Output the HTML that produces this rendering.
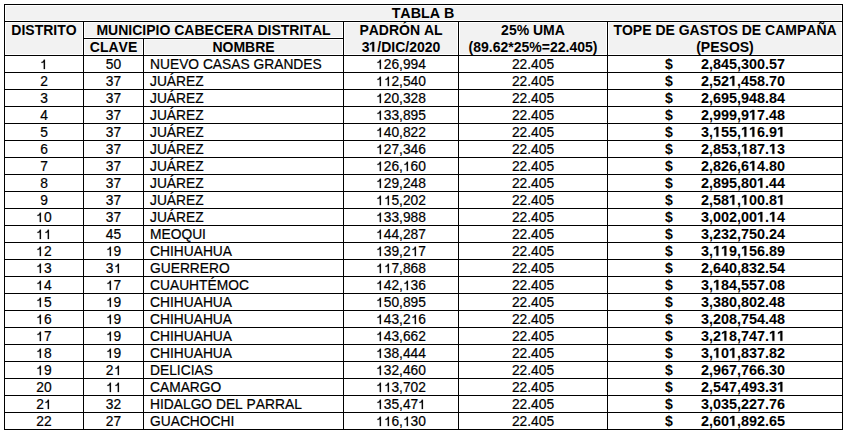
<!DOCTYPE html>
<html><head><meta charset="utf-8"><style>
html,body{margin:0;padding:0;background:#fff;}
body{width:848px;height:434px;overflow:hidden;position:relative;font-family:"Liberation Sans",sans-serif;color:#000;font-kerning:none;}
.l{position:absolute;background:#000;}
.f{position:absolute;background:#f2f2f2;}
.t{position:absolute;white-space:nowrap;height:17px;line-height:17px;}
.b{font-weight:bold;font-size:14px;transform:scaleY(1.0);transform-origin:0 13px;}
.r{font-size:13.8px;transform:scaleY(1.04);transform-origin:0 13px;-webkit-text-stroke:0.2px #000;}
.c{text-align:center;}
.rt{text-align:right;}
.bn{font-size:14.4px;}
.one{display:inline-block;width:0.55615em;height:0.66em;vertical-align:0;position:relative;top:0px;overflow:visible;}
.r .one path{stroke:#000;stroke-width:30;}
.b .one{height:0.68em;top:0px;}
.b .one path{stroke:#000;stroke-width:40;}
</style></head><body>
<div class="f" style="left:6px;top:6px;width:835px;height:14px"></div><div class="f" style="left:6px;top:23px;width:76px;height:31px"></div><div class="f" style="left:85px;top:23px;width:257px;height:14px"></div><div class="f" style="left:85px;top:40px;width:57px;height:14px"></div><div class="f" style="left:145px;top:40px;width:197px;height:14px"></div><div class="f" style="left:345px;top:23px;width:112px;height:31px"></div><div class="f" style="left:460px;top:23px;width:146px;height:31px"></div><div class="f" style="left:609px;top:23px;width:232px;height:31px"></div><div class="l" style="left:4px;top:4px;width:839px;height:1px"></div><div class="l" style="left:4px;top:21px;width:839px;height:1px"></div><div class="l" style="left:83px;top:38px;width:261px;height:1px"></div><div class="l" style="left:4px;top:55px;width:839px;height:1px"></div><div class="l" style="left:4px;top:72px;width:839px;height:1px"></div><div class="l" style="left:4px;top:89px;width:839px;height:1px"></div><div class="l" style="left:4px;top:106px;width:839px;height:1px"></div><div class="l" style="left:4px;top:123px;width:839px;height:1px"></div><div class="l" style="left:4px;top:140px;width:839px;height:1px"></div><div class="l" style="left:4px;top:157px;width:839px;height:1px"></div><div class="l" style="left:4px;top:174px;width:839px;height:1px"></div><div class="l" style="left:4px;top:191px;width:839px;height:1px"></div><div class="l" style="left:4px;top:208px;width:839px;height:1px"></div><div class="l" style="left:4px;top:225px;width:839px;height:1px"></div><div class="l" style="left:4px;top:242px;width:839px;height:1px"></div><div class="l" style="left:4px;top:259px;width:839px;height:1px"></div><div class="l" style="left:4px;top:276px;width:839px;height:1px"></div><div class="l" style="left:4px;top:293px;width:839px;height:1px"></div><div class="l" style="left:4px;top:310px;width:839px;height:1px"></div><div class="l" style="left:4px;top:327px;width:839px;height:1px"></div><div class="l" style="left:4px;top:344px;width:839px;height:1px"></div><div class="l" style="left:4px;top:361px;width:839px;height:1px"></div><div class="l" style="left:4px;top:378px;width:839px;height:1px"></div><div class="l" style="left:4px;top:395px;width:839px;height:1px"></div><div class="l" style="left:4px;top:412px;width:839px;height:1px"></div><div class="l" style="left:4px;top:429px;width:839px;height:1px"></div><div class="l" style="left:4px;top:4px;width:1px;height:426px"></div><div class="l" style="left:842px;top:4px;width:1px;height:426px"></div><div class="l" style="left:83px;top:21px;width:1px;height:409px"></div><div class="l" style="left:143px;top:38px;width:1px;height:392px"></div><div class="l" style="left:343px;top:21px;width:1px;height:409px"></div><div class="l" style="left:458px;top:21px;width:1px;height:409px"></div><div class="l" style="left:607px;top:21px;width:1px;height:409px"></div><div class="t b c" style="left:4px;width:838px;top:5px;font-size:14.3px">TABLA B</div><div class="t b c" style="left:5px;width:78px;top:22px;">DISTRITO</div><div class="t b c" style="left:84px;width:259px;top:22px;">MUNICIPIO CABECERA DISTRITAL</div><div class="t b c" style="left:84px;width:59px;top:39px;">CLAVE</div><div class="t b c" style="left:144px;width:199px;top:39px;">NOMBRE</div><div class="t b c" style="left:344px;width:114px;top:22px;">PADRÓN AL</div><div class="t b c" style="left:344px;width:114px;top:39px;">3<svg class="one" viewBox="0 0 1139 1409" preserveAspectRatio="none"><path d="M759 1409L478 1409L478 239L140 450L140 229L493 0L759 0Z"/></svg>/DIC/2020</div><div class="t b c" style="left:459px;width:148px;top:22px;">25% UMA</div><div class="t b c" style="left:459px;width:148px;top:39px;">(89.62*25%=22.405)</div><div class="t b c" style="left:608px;width:234px;top:22px;">TOPE DE GASTOS DE CAMPAÑA</div><div class="t b c" style="left:608px;width:234px;top:39px;">(PESOS)</div><div class="t r c" style="left:5px;width:78px;top:56px;"><svg class="one" viewBox="0 0 1139 1409" preserveAspectRatio="none"><path d="M735 1409L555 1409L555 379C480 449 330 474 207 479L207 339C380 319 500 229 560 0L735 0Z"/></svg></div><div class="t r c" style="left:84px;width:59px;top:56px;">50</div><div class="t r" style="left:150px;width:193px;top:56px;">NUEVO CASAS GRANDES</div><div class="t r c" style="left:344px;width:114px;top:56px;"><svg class="one" viewBox="0 0 1139 1409" preserveAspectRatio="none"><path d="M735 1409L555 1409L555 379C480 449 330 474 207 479L207 339C380 319 500 229 560 0L735 0Z"/></svg>26,994</div><div class="t r c" style="left:459px;width:148px;top:56px;">22.405</div><div class="t b" style="left:665px;width:10px;top:56px;">$</div><div class="t b rt bn" style="left:685px;width:100px;top:56px;">2,845,300.57</div><div class="t r c" style="left:5px;width:78px;top:73px;">2</div><div class="t r c" style="left:84px;width:59px;top:73px;">37</div><div class="t r" style="left:150px;width:193px;top:73px;">JUÁREZ</div><div class="t r c" style="left:344px;width:114px;top:73px;"><svg class="one" viewBox="0 0 1139 1409" preserveAspectRatio="none"><path d="M735 1409L555 1409L555 379C480 449 330 474 207 479L207 339C380 319 500 229 560 0L735 0Z"/></svg><svg class="one" viewBox="0 0 1139 1409" preserveAspectRatio="none"><path d="M735 1409L555 1409L555 379C480 449 330 474 207 479L207 339C380 319 500 229 560 0L735 0Z"/></svg>2,540</div><div class="t r c" style="left:459px;width:148px;top:73px;">22.405</div><div class="t b" style="left:665px;width:10px;top:73px;">$</div><div class="t b rt bn" style="left:685px;width:100px;top:73px;">2,52<svg class="one" viewBox="0 0 1139 1409" preserveAspectRatio="none"><path d="M759 1409L478 1409L478 239L140 450L140 229L493 0L759 0Z"/></svg>,458.70</div><div class="t r c" style="left:5px;width:78px;top:90px;">3</div><div class="t r c" style="left:84px;width:59px;top:90px;">37</div><div class="t r" style="left:150px;width:193px;top:90px;">JUÁREZ</div><div class="t r c" style="left:344px;width:114px;top:90px;"><svg class="one" viewBox="0 0 1139 1409" preserveAspectRatio="none"><path d="M735 1409L555 1409L555 379C480 449 330 474 207 479L207 339C380 319 500 229 560 0L735 0Z"/></svg>20,328</div><div class="t r c" style="left:459px;width:148px;top:90px;">22.405</div><div class="t b" style="left:665px;width:10px;top:90px;">$</div><div class="t b rt bn" style="left:685px;width:100px;top:90px;">2,695,948.84</div><div class="t r c" style="left:5px;width:78px;top:107px;">4</div><div class="t r c" style="left:84px;width:59px;top:107px;">37</div><div class="t r" style="left:150px;width:193px;top:107px;">JUÁREZ</div><div class="t r c" style="left:344px;width:114px;top:107px;"><svg class="one" viewBox="0 0 1139 1409" preserveAspectRatio="none"><path d="M735 1409L555 1409L555 379C480 449 330 474 207 479L207 339C380 319 500 229 560 0L735 0Z"/></svg>33,895</div><div class="t r c" style="left:459px;width:148px;top:107px;">22.405</div><div class="t b" style="left:665px;width:10px;top:107px;">$</div><div class="t b rt bn" style="left:685px;width:100px;top:107px;">2,999,9<svg class="one" viewBox="0 0 1139 1409" preserveAspectRatio="none"><path d="M759 1409L478 1409L478 239L140 450L140 229L493 0L759 0Z"/></svg>7.48</div><div class="t r c" style="left:5px;width:78px;top:124px;">5</div><div class="t r c" style="left:84px;width:59px;top:124px;">37</div><div class="t r" style="left:150px;width:193px;top:124px;">JUÁREZ</div><div class="t r c" style="left:344px;width:114px;top:124px;"><svg class="one" viewBox="0 0 1139 1409" preserveAspectRatio="none"><path d="M735 1409L555 1409L555 379C480 449 330 474 207 479L207 339C380 319 500 229 560 0L735 0Z"/></svg>40,822</div><div class="t r c" style="left:459px;width:148px;top:124px;">22.405</div><div class="t b" style="left:665px;width:10px;top:124px;">$</div><div class="t b rt bn" style="left:685px;width:100px;top:124px;">3,<svg class="one" viewBox="0 0 1139 1409" preserveAspectRatio="none"><path d="M759 1409L478 1409L478 239L140 450L140 229L493 0L759 0Z"/></svg>55,<svg class="one" viewBox="0 0 1139 1409" preserveAspectRatio="none"><path d="M759 1409L478 1409L478 239L140 450L140 229L493 0L759 0Z"/></svg><svg class="one" viewBox="0 0 1139 1409" preserveAspectRatio="none"><path d="M759 1409L478 1409L478 239L140 450L140 229L493 0L759 0Z"/></svg>6.9<svg class="one" viewBox="0 0 1139 1409" preserveAspectRatio="none"><path d="M759 1409L478 1409L478 239L140 450L140 229L493 0L759 0Z"/></svg></div><div class="t r c" style="left:5px;width:78px;top:141px;">6</div><div class="t r c" style="left:84px;width:59px;top:141px;">37</div><div class="t r" style="left:150px;width:193px;top:141px;">JUÁREZ</div><div class="t r c" style="left:344px;width:114px;top:141px;"><svg class="one" viewBox="0 0 1139 1409" preserveAspectRatio="none"><path d="M735 1409L555 1409L555 379C480 449 330 474 207 479L207 339C380 319 500 229 560 0L735 0Z"/></svg>27,346</div><div class="t r c" style="left:459px;width:148px;top:141px;">22.405</div><div class="t b" style="left:665px;width:10px;top:141px;">$</div><div class="t b rt bn" style="left:685px;width:100px;top:141px;">2,853,<svg class="one" viewBox="0 0 1139 1409" preserveAspectRatio="none"><path d="M759 1409L478 1409L478 239L140 450L140 229L493 0L759 0Z"/></svg>87.<svg class="one" viewBox="0 0 1139 1409" preserveAspectRatio="none"><path d="M759 1409L478 1409L478 239L140 450L140 229L493 0L759 0Z"/></svg>3</div><div class="t r c" style="left:5px;width:78px;top:158px;">7</div><div class="t r c" style="left:84px;width:59px;top:158px;">37</div><div class="t r" style="left:150px;width:193px;top:158px;">JUÁREZ</div><div class="t r c" style="left:344px;width:114px;top:158px;"><svg class="one" viewBox="0 0 1139 1409" preserveAspectRatio="none"><path d="M735 1409L555 1409L555 379C480 449 330 474 207 479L207 339C380 319 500 229 560 0L735 0Z"/></svg>26,<svg class="one" viewBox="0 0 1139 1409" preserveAspectRatio="none"><path d="M735 1409L555 1409L555 379C480 449 330 474 207 479L207 339C380 319 500 229 560 0L735 0Z"/></svg>60</div><div class="t r c" style="left:459px;width:148px;top:158px;">22.405</div><div class="t b" style="left:665px;width:10px;top:158px;">$</div><div class="t b rt bn" style="left:685px;width:100px;top:158px;">2,826,6<svg class="one" viewBox="0 0 1139 1409" preserveAspectRatio="none"><path d="M759 1409L478 1409L478 239L140 450L140 229L493 0L759 0Z"/></svg>4.80</div><div class="t r c" style="left:5px;width:78px;top:175px;">8</div><div class="t r c" style="left:84px;width:59px;top:175px;">37</div><div class="t r" style="left:150px;width:193px;top:175px;">JUÁREZ</div><div class="t r c" style="left:344px;width:114px;top:175px;"><svg class="one" viewBox="0 0 1139 1409" preserveAspectRatio="none"><path d="M735 1409L555 1409L555 379C480 449 330 474 207 479L207 339C380 319 500 229 560 0L735 0Z"/></svg>29,248</div><div class="t r c" style="left:459px;width:148px;top:175px;">22.405</div><div class="t b" style="left:665px;width:10px;top:175px;">$</div><div class="t b rt bn" style="left:685px;width:100px;top:175px;">2,895,80<svg class="one" viewBox="0 0 1139 1409" preserveAspectRatio="none"><path d="M759 1409L478 1409L478 239L140 450L140 229L493 0L759 0Z"/></svg>.44</div><div class="t r c" style="left:5px;width:78px;top:192px;">9</div><div class="t r c" style="left:84px;width:59px;top:192px;">37</div><div class="t r" style="left:150px;width:193px;top:192px;">JUÁREZ</div><div class="t r c" style="left:344px;width:114px;top:192px;"><svg class="one" viewBox="0 0 1139 1409" preserveAspectRatio="none"><path d="M735 1409L555 1409L555 379C480 449 330 474 207 479L207 339C380 319 500 229 560 0L735 0Z"/></svg><svg class="one" viewBox="0 0 1139 1409" preserveAspectRatio="none"><path d="M735 1409L555 1409L555 379C480 449 330 474 207 479L207 339C380 319 500 229 560 0L735 0Z"/></svg>5,202</div><div class="t r c" style="left:459px;width:148px;top:192px;">22.405</div><div class="t b" style="left:665px;width:10px;top:192px;">$</div><div class="t b rt bn" style="left:685px;width:100px;top:192px;">2,58<svg class="one" viewBox="0 0 1139 1409" preserveAspectRatio="none"><path d="M759 1409L478 1409L478 239L140 450L140 229L493 0L759 0Z"/></svg>,<svg class="one" viewBox="0 0 1139 1409" preserveAspectRatio="none"><path d="M759 1409L478 1409L478 239L140 450L140 229L493 0L759 0Z"/></svg>00.8<svg class="one" viewBox="0 0 1139 1409" preserveAspectRatio="none"><path d="M759 1409L478 1409L478 239L140 450L140 229L493 0L759 0Z"/></svg></div><div class="t r c" style="left:5px;width:78px;top:209px;"><svg class="one" viewBox="0 0 1139 1409" preserveAspectRatio="none"><path d="M735 1409L555 1409L555 379C480 449 330 474 207 479L207 339C380 319 500 229 560 0L735 0Z"/></svg>0</div><div class="t r c" style="left:84px;width:59px;top:209px;">37</div><div class="t r" style="left:150px;width:193px;top:209px;">JUÁREZ</div><div class="t r c" style="left:344px;width:114px;top:209px;"><svg class="one" viewBox="0 0 1139 1409" preserveAspectRatio="none"><path d="M735 1409L555 1409L555 379C480 449 330 474 207 479L207 339C380 319 500 229 560 0L735 0Z"/></svg>33,988</div><div class="t r c" style="left:459px;width:148px;top:209px;">22.405</div><div class="t b" style="left:665px;width:10px;top:209px;">$</div><div class="t b rt bn" style="left:685px;width:100px;top:209px;">3,002,00<svg class="one" viewBox="0 0 1139 1409" preserveAspectRatio="none"><path d="M759 1409L478 1409L478 239L140 450L140 229L493 0L759 0Z"/></svg>.<svg class="one" viewBox="0 0 1139 1409" preserveAspectRatio="none"><path d="M759 1409L478 1409L478 239L140 450L140 229L493 0L759 0Z"/></svg>4</div><div class="t r c" style="left:5px;width:78px;top:226px;"><svg class="one" viewBox="0 0 1139 1409" preserveAspectRatio="none"><path d="M735 1409L555 1409L555 379C480 449 330 474 207 479L207 339C380 319 500 229 560 0L735 0Z"/></svg><svg class="one" viewBox="0 0 1139 1409" preserveAspectRatio="none"><path d="M735 1409L555 1409L555 379C480 449 330 474 207 479L207 339C380 319 500 229 560 0L735 0Z"/></svg></div><div class="t r c" style="left:84px;width:59px;top:226px;">45</div><div class="t r" style="left:150px;width:193px;top:226px;">MEOQUI</div><div class="t r c" style="left:344px;width:114px;top:226px;"><svg class="one" viewBox="0 0 1139 1409" preserveAspectRatio="none"><path d="M735 1409L555 1409L555 379C480 449 330 474 207 479L207 339C380 319 500 229 560 0L735 0Z"/></svg>44,287</div><div class="t r c" style="left:459px;width:148px;top:226px;">22.405</div><div class="t b" style="left:665px;width:10px;top:226px;">$</div><div class="t b rt bn" style="left:685px;width:100px;top:226px;">3,232,750.24</div><div class="t r c" style="left:5px;width:78px;top:243px;"><svg class="one" viewBox="0 0 1139 1409" preserveAspectRatio="none"><path d="M735 1409L555 1409L555 379C480 449 330 474 207 479L207 339C380 319 500 229 560 0L735 0Z"/></svg>2</div><div class="t r c" style="left:84px;width:59px;top:243px;"><svg class="one" viewBox="0 0 1139 1409" preserveAspectRatio="none"><path d="M735 1409L555 1409L555 379C480 449 330 474 207 479L207 339C380 319 500 229 560 0L735 0Z"/></svg>9</div><div class="t r" style="left:150px;width:193px;top:243px;">CHIHUAHUA</div><div class="t r c" style="left:344px;width:114px;top:243px;"><svg class="one" viewBox="0 0 1139 1409" preserveAspectRatio="none"><path d="M735 1409L555 1409L555 379C480 449 330 474 207 479L207 339C380 319 500 229 560 0L735 0Z"/></svg>39,2<svg class="one" viewBox="0 0 1139 1409" preserveAspectRatio="none"><path d="M735 1409L555 1409L555 379C480 449 330 474 207 479L207 339C380 319 500 229 560 0L735 0Z"/></svg>7</div><div class="t r c" style="left:459px;width:148px;top:243px;">22.405</div><div class="t b" style="left:665px;width:10px;top:243px;">$</div><div class="t b rt bn" style="left:685px;width:100px;top:243px;">3,<svg class="one" viewBox="0 0 1139 1409" preserveAspectRatio="none"><path d="M759 1409L478 1409L478 239L140 450L140 229L493 0L759 0Z"/></svg><svg class="one" viewBox="0 0 1139 1409" preserveAspectRatio="none"><path d="M759 1409L478 1409L478 239L140 450L140 229L493 0L759 0Z"/></svg>9,<svg class="one" viewBox="0 0 1139 1409" preserveAspectRatio="none"><path d="M759 1409L478 1409L478 239L140 450L140 229L493 0L759 0Z"/></svg>56.89</div><div class="t r c" style="left:5px;width:78px;top:260px;"><svg class="one" viewBox="0 0 1139 1409" preserveAspectRatio="none"><path d="M735 1409L555 1409L555 379C480 449 330 474 207 479L207 339C380 319 500 229 560 0L735 0Z"/></svg>3</div><div class="t r c" style="left:84px;width:59px;top:260px;">3<svg class="one" viewBox="0 0 1139 1409" preserveAspectRatio="none"><path d="M735 1409L555 1409L555 379C480 449 330 474 207 479L207 339C380 319 500 229 560 0L735 0Z"/></svg></div><div class="t r" style="left:150px;width:193px;top:260px;">GUERRERO</div><div class="t r c" style="left:344px;width:114px;top:260px;"><svg class="one" viewBox="0 0 1139 1409" preserveAspectRatio="none"><path d="M735 1409L555 1409L555 379C480 449 330 474 207 479L207 339C380 319 500 229 560 0L735 0Z"/></svg><svg class="one" viewBox="0 0 1139 1409" preserveAspectRatio="none"><path d="M735 1409L555 1409L555 379C480 449 330 474 207 479L207 339C380 319 500 229 560 0L735 0Z"/></svg>7,868</div><div class="t r c" style="left:459px;width:148px;top:260px;">22.405</div><div class="t b" style="left:665px;width:10px;top:260px;">$</div><div class="t b rt bn" style="left:685px;width:100px;top:260px;">2,640,832.54</div><div class="t r c" style="left:5px;width:78px;top:277px;"><svg class="one" viewBox="0 0 1139 1409" preserveAspectRatio="none"><path d="M735 1409L555 1409L555 379C480 449 330 474 207 479L207 339C380 319 500 229 560 0L735 0Z"/></svg>4</div><div class="t r c" style="left:84px;width:59px;top:277px;"><svg class="one" viewBox="0 0 1139 1409" preserveAspectRatio="none"><path d="M735 1409L555 1409L555 379C480 449 330 474 207 479L207 339C380 319 500 229 560 0L735 0Z"/></svg>7</div><div class="t r" style="left:150px;width:193px;top:277px;">CUAUHTÉMOC</div><div class="t r c" style="left:344px;width:114px;top:277px;"><svg class="one" viewBox="0 0 1139 1409" preserveAspectRatio="none"><path d="M735 1409L555 1409L555 379C480 449 330 474 207 479L207 339C380 319 500 229 560 0L735 0Z"/></svg>42,<svg class="one" viewBox="0 0 1139 1409" preserveAspectRatio="none"><path d="M735 1409L555 1409L555 379C480 449 330 474 207 479L207 339C380 319 500 229 560 0L735 0Z"/></svg>36</div><div class="t r c" style="left:459px;width:148px;top:277px;">22.405</div><div class="t b" style="left:665px;width:10px;top:277px;">$</div><div class="t b rt bn" style="left:685px;width:100px;top:277px;">3,<svg class="one" viewBox="0 0 1139 1409" preserveAspectRatio="none"><path d="M759 1409L478 1409L478 239L140 450L140 229L493 0L759 0Z"/></svg>84,557.08</div><div class="t r c" style="left:5px;width:78px;top:294px;"><svg class="one" viewBox="0 0 1139 1409" preserveAspectRatio="none"><path d="M735 1409L555 1409L555 379C480 449 330 474 207 479L207 339C380 319 500 229 560 0L735 0Z"/></svg>5</div><div class="t r c" style="left:84px;width:59px;top:294px;"><svg class="one" viewBox="0 0 1139 1409" preserveAspectRatio="none"><path d="M735 1409L555 1409L555 379C480 449 330 474 207 479L207 339C380 319 500 229 560 0L735 0Z"/></svg>9</div><div class="t r" style="left:150px;width:193px;top:294px;">CHIHUAHUA</div><div class="t r c" style="left:344px;width:114px;top:294px;"><svg class="one" viewBox="0 0 1139 1409" preserveAspectRatio="none"><path d="M735 1409L555 1409L555 379C480 449 330 474 207 479L207 339C380 319 500 229 560 0L735 0Z"/></svg>50,895</div><div class="t r c" style="left:459px;width:148px;top:294px;">22.405</div><div class="t b" style="left:665px;width:10px;top:294px;">$</div><div class="t b rt bn" style="left:685px;width:100px;top:294px;">3,380,802.48</div><div class="t r c" style="left:5px;width:78px;top:311px;"><svg class="one" viewBox="0 0 1139 1409" preserveAspectRatio="none"><path d="M735 1409L555 1409L555 379C480 449 330 474 207 479L207 339C380 319 500 229 560 0L735 0Z"/></svg>6</div><div class="t r c" style="left:84px;width:59px;top:311px;"><svg class="one" viewBox="0 0 1139 1409" preserveAspectRatio="none"><path d="M735 1409L555 1409L555 379C480 449 330 474 207 479L207 339C380 319 500 229 560 0L735 0Z"/></svg>9</div><div class="t r" style="left:150px;width:193px;top:311px;">CHIHUAHUA</div><div class="t r c" style="left:344px;width:114px;top:311px;"><svg class="one" viewBox="0 0 1139 1409" preserveAspectRatio="none"><path d="M735 1409L555 1409L555 379C480 449 330 474 207 479L207 339C380 319 500 229 560 0L735 0Z"/></svg>43,2<svg class="one" viewBox="0 0 1139 1409" preserveAspectRatio="none"><path d="M735 1409L555 1409L555 379C480 449 330 474 207 479L207 339C380 319 500 229 560 0L735 0Z"/></svg>6</div><div class="t r c" style="left:459px;width:148px;top:311px;">22.405</div><div class="t b" style="left:665px;width:10px;top:311px;">$</div><div class="t b rt bn" style="left:685px;width:100px;top:311px;">3,208,754.48</div><div class="t r c" style="left:5px;width:78px;top:328px;"><svg class="one" viewBox="0 0 1139 1409" preserveAspectRatio="none"><path d="M735 1409L555 1409L555 379C480 449 330 474 207 479L207 339C380 319 500 229 560 0L735 0Z"/></svg>7</div><div class="t r c" style="left:84px;width:59px;top:328px;"><svg class="one" viewBox="0 0 1139 1409" preserveAspectRatio="none"><path d="M735 1409L555 1409L555 379C480 449 330 474 207 479L207 339C380 319 500 229 560 0L735 0Z"/></svg>9</div><div class="t r" style="left:150px;width:193px;top:328px;">CHIHUAHUA</div><div class="t r c" style="left:344px;width:114px;top:328px;"><svg class="one" viewBox="0 0 1139 1409" preserveAspectRatio="none"><path d="M735 1409L555 1409L555 379C480 449 330 474 207 479L207 339C380 319 500 229 560 0L735 0Z"/></svg>43,662</div><div class="t r c" style="left:459px;width:148px;top:328px;">22.405</div><div class="t b" style="left:665px;width:10px;top:328px;">$</div><div class="t b rt bn" style="left:685px;width:100px;top:328px;">3,2<svg class="one" viewBox="0 0 1139 1409" preserveAspectRatio="none"><path d="M759 1409L478 1409L478 239L140 450L140 229L493 0L759 0Z"/></svg>8,747.<svg class="one" viewBox="0 0 1139 1409" preserveAspectRatio="none"><path d="M759 1409L478 1409L478 239L140 450L140 229L493 0L759 0Z"/></svg><svg class="one" viewBox="0 0 1139 1409" preserveAspectRatio="none"><path d="M759 1409L478 1409L478 239L140 450L140 229L493 0L759 0Z"/></svg></div><div class="t r c" style="left:5px;width:78px;top:345px;"><svg class="one" viewBox="0 0 1139 1409" preserveAspectRatio="none"><path d="M735 1409L555 1409L555 379C480 449 330 474 207 479L207 339C380 319 500 229 560 0L735 0Z"/></svg>8</div><div class="t r c" style="left:84px;width:59px;top:345px;"><svg class="one" viewBox="0 0 1139 1409" preserveAspectRatio="none"><path d="M735 1409L555 1409L555 379C480 449 330 474 207 479L207 339C380 319 500 229 560 0L735 0Z"/></svg>9</div><div class="t r" style="left:150px;width:193px;top:345px;">CHIHUAHUA</div><div class="t r c" style="left:344px;width:114px;top:345px;"><svg class="one" viewBox="0 0 1139 1409" preserveAspectRatio="none"><path d="M735 1409L555 1409L555 379C480 449 330 474 207 479L207 339C380 319 500 229 560 0L735 0Z"/></svg>38,444</div><div class="t r c" style="left:459px;width:148px;top:345px;">22.405</div><div class="t b" style="left:665px;width:10px;top:345px;">$</div><div class="t b rt bn" style="left:685px;width:100px;top:345px;">3,<svg class="one" viewBox="0 0 1139 1409" preserveAspectRatio="none"><path d="M759 1409L478 1409L478 239L140 450L140 229L493 0L759 0Z"/></svg>0<svg class="one" viewBox="0 0 1139 1409" preserveAspectRatio="none"><path d="M759 1409L478 1409L478 239L140 450L140 229L493 0L759 0Z"/></svg>,837.82</div><div class="t r c" style="left:5px;width:78px;top:362px;"><svg class="one" viewBox="0 0 1139 1409" preserveAspectRatio="none"><path d="M735 1409L555 1409L555 379C480 449 330 474 207 479L207 339C380 319 500 229 560 0L735 0Z"/></svg>9</div><div class="t r c" style="left:84px;width:59px;top:362px;">2<svg class="one" viewBox="0 0 1139 1409" preserveAspectRatio="none"><path d="M735 1409L555 1409L555 379C480 449 330 474 207 479L207 339C380 319 500 229 560 0L735 0Z"/></svg></div><div class="t r" style="left:150px;width:193px;top:362px;">DELICIAS</div><div class="t r c" style="left:344px;width:114px;top:362px;"><svg class="one" viewBox="0 0 1139 1409" preserveAspectRatio="none"><path d="M735 1409L555 1409L555 379C480 449 330 474 207 479L207 339C380 319 500 229 560 0L735 0Z"/></svg>32,460</div><div class="t r c" style="left:459px;width:148px;top:362px;">22.405</div><div class="t b" style="left:665px;width:10px;top:362px;">$</div><div class="t b rt bn" style="left:685px;width:100px;top:362px;">2,967,766.30</div><div class="t r c" style="left:5px;width:78px;top:379px;">20</div><div class="t r c" style="left:84px;width:59px;top:379px;"><svg class="one" viewBox="0 0 1139 1409" preserveAspectRatio="none"><path d="M735 1409L555 1409L555 379C480 449 330 474 207 479L207 339C380 319 500 229 560 0L735 0Z"/></svg><svg class="one" viewBox="0 0 1139 1409" preserveAspectRatio="none"><path d="M735 1409L555 1409L555 379C480 449 330 474 207 479L207 339C380 319 500 229 560 0L735 0Z"/></svg></div><div class="t r" style="left:150px;width:193px;top:379px;">CAMARGO</div><div class="t r c" style="left:344px;width:114px;top:379px;"><svg class="one" viewBox="0 0 1139 1409" preserveAspectRatio="none"><path d="M735 1409L555 1409L555 379C480 449 330 474 207 479L207 339C380 319 500 229 560 0L735 0Z"/></svg><svg class="one" viewBox="0 0 1139 1409" preserveAspectRatio="none"><path d="M735 1409L555 1409L555 379C480 449 330 474 207 479L207 339C380 319 500 229 560 0L735 0Z"/></svg>3,702</div><div class="t r c" style="left:459px;width:148px;top:379px;">22.405</div><div class="t b" style="left:665px;width:10px;top:379px;">$</div><div class="t b rt bn" style="left:685px;width:100px;top:379px;">2,547,493.3<svg class="one" viewBox="0 0 1139 1409" preserveAspectRatio="none"><path d="M759 1409L478 1409L478 239L140 450L140 229L493 0L759 0Z"/></svg></div><div class="t r c" style="left:5px;width:78px;top:396px;">2<svg class="one" viewBox="0 0 1139 1409" preserveAspectRatio="none"><path d="M735 1409L555 1409L555 379C480 449 330 474 207 479L207 339C380 319 500 229 560 0L735 0Z"/></svg></div><div class="t r c" style="left:84px;width:59px;top:396px;">32</div><div class="t r" style="left:150px;width:193px;top:396px;">HIDALGO DEL PARRAL</div><div class="t r c" style="left:344px;width:114px;top:396px;"><svg class="one" viewBox="0 0 1139 1409" preserveAspectRatio="none"><path d="M735 1409L555 1409L555 379C480 449 330 474 207 479L207 339C380 319 500 229 560 0L735 0Z"/></svg>35,47<svg class="one" viewBox="0 0 1139 1409" preserveAspectRatio="none"><path d="M735 1409L555 1409L555 379C480 449 330 474 207 479L207 339C380 319 500 229 560 0L735 0Z"/></svg></div><div class="t r c" style="left:459px;width:148px;top:396px;">22.405</div><div class="t b" style="left:665px;width:10px;top:396px;">$</div><div class="t b rt bn" style="left:685px;width:100px;top:396px;">3,035,227.76</div><div class="t r c" style="left:5px;width:78px;top:413px;">22</div><div class="t r c" style="left:84px;width:59px;top:413px;">27</div><div class="t r" style="left:150px;width:193px;top:413px;">GUACHOCHI</div><div class="t r c" style="left:344px;width:114px;top:413px;"><svg class="one" viewBox="0 0 1139 1409" preserveAspectRatio="none"><path d="M735 1409L555 1409L555 379C480 449 330 474 207 479L207 339C380 319 500 229 560 0L735 0Z"/></svg><svg class="one" viewBox="0 0 1139 1409" preserveAspectRatio="none"><path d="M735 1409L555 1409L555 379C480 449 330 474 207 479L207 339C380 319 500 229 560 0L735 0Z"/></svg>6,<svg class="one" viewBox="0 0 1139 1409" preserveAspectRatio="none"><path d="M735 1409L555 1409L555 379C480 449 330 474 207 479L207 339C380 319 500 229 560 0L735 0Z"/></svg>30</div><div class="t r c" style="left:459px;width:148px;top:413px;">22.405</div><div class="t b" style="left:665px;width:10px;top:413px;">$</div><div class="t b rt bn" style="left:685px;width:100px;top:413px;">2,60<svg class="one" viewBox="0 0 1139 1409" preserveAspectRatio="none"><path d="M759 1409L478 1409L478 239L140 450L140 229L493 0L759 0Z"/></svg>,892.65</div></body></html>
